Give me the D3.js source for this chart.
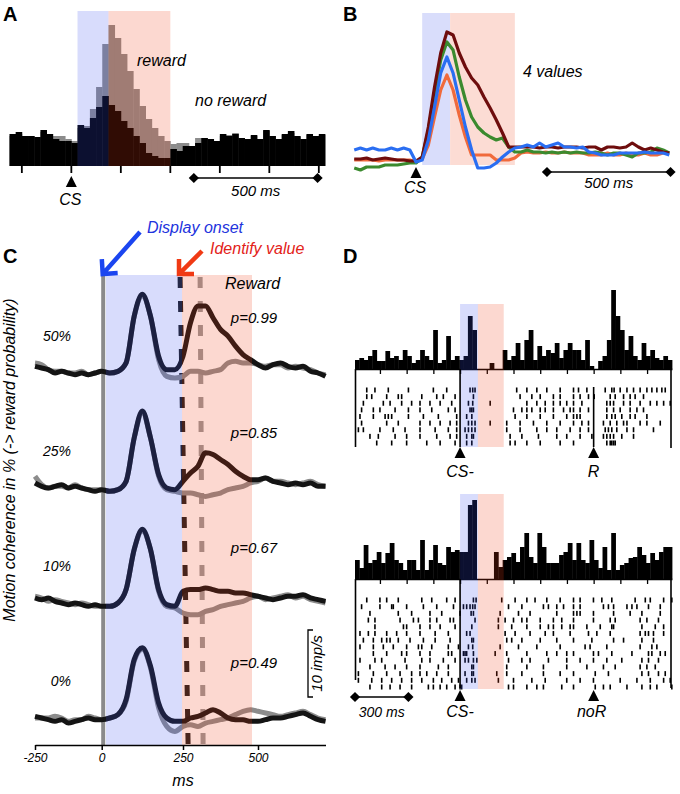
<!DOCTYPE html>
<html>
<head>
<meta charset="utf-8">
<script src="https://cdn.jsdelivr.net/npm/d3@7"></script>
<style>
  body { margin: 0; background: #fff; }
  svg { display: block; font-family: "Liberation Sans", Arial, sans-serif; }
  .it { font-style: italic; }
</style>
</head>
<body>
<svg id="fig" width="680" height="794"></svg>
<script>
// ---------------- data ----------------

// A: PSTH, 25 ms bins starting at -250 ms (px-ish rate units)
var aStart = -250, aBin = 25;
var aNoReward = [32,34,30,30,29,36,32,27,25,25,23,41,38,48,59,70,61,55,45,38,30,23,13,10,8,8,17,15,20,20,23,28,27,25,32,30,32,28,27,31,27,36,30,27,32,35,30,27,32,30,32];
var aReward   = [30,32,30,30,28,34,30,30,30,27,25,38,40,57,79,122,141,128,112,95,77,60,47,38,30,25,22,23,23,20,28,28,27,24,30,31,33,27,25,30,27,35,30,26,31,33,29,26,31,29,31];
var aTicks = [-200, 0, 200, 400, 600, 800, 1000];
var aBlue = [25, 150], aRed = [150, 400];

// B: population responses for 4 values, sampled every 25 ms from -250
var bTimes = d3.range(-250, 1026, 25);
var bDarkRed = [-4,-4,-3,-5,-4,-3,-4,-5,-5,-6,-6,-2,28,68,102,123,120,102,88,77,70,58,47,35,22,8,8,8,8,8,7,8,8,7,8,8,8,7,8,8,5,8,8,7,8,12,8,5,7,5,3,2];
var bGreen   = [-13,-15,-12,-12,-12,-10,-10,-10,-9,-8,-8,-2,25,62,95,113,105,78,55,38,28,22,18,15,17,8,3,3,5,3,3,2,3,2,3,2,3,2,2,3,2,0,2,2,0,-2,2,2,3,7,5,2];
var bBlue    = [5,7,5,7,5,5,7,5,7,5,-7,-5,15,48,82,98,82,55,28,5,-13,-13,-12,-8,-2,3,7,8,10,8,12,8,10,12,8,8,7,8,3,2,0,0,0,2,2,2,2,3,2,2,2,0];
var bOrange  = [-5,-5,-5,-5,-6,-5,-5,-5,-5,-5,-7,-4,10,38,65,80,65,40,18,0,0,0,0,-5,-5,-5,-3,2,3,2,2,3,2,2,3,2,2,2,0,0,0,2,0,0,2,0,0,2,0,0,2,2,2,2,-3];
var bBlueBand = [25, 138], bRedBand = [138, 400];

// C: responses per motion coherence (imp/s re baseline), every 25 ms from -250
var cTimes = d3.range(-250, 726, 25);
var cRows = ['50%', '25%', '10%', '0%'];
var cProb = ['p=0.99', 'p=0.85', 'p=0.67', 'p=0.49'];
var cReward = [
  [1.0,0.75,0.5,0,0.25,0,-0.25,0,-0.25,0,0.25,0,0.25,1.5,8.5,11.75,8.5,2.5,0.5,0.5,2.5,7.5,10,10,8.25,6.5,5.5,4,2.75,2,1.25,0.75,1.25,1.5,1.0,0.75,1.0,0.25,0,-0.5],
  [0.75,0.25,0,0.25,0.5,0,0.25,0,-0.25,-0.5,-0.25,-0.5,-0.25,1,7.5,11.5,7.5,2,0,-0.25,1,2.25,3.25,5.25,5,4.25,3.5,2.5,1.75,1.25,1.25,1.5,1,0.75,0.5,0.75,0.5,0.75,0.25,0.25],
  [0.75,0.5,0.75,0.25,0,-0.25,0,-0.25,-0.5,-0.25,-0.5,-0.5,0,2,8,11,8,2,-0.25,-0.5,1.75,2,2,2.25,2,1.75,1.75,1.5,1.5,1.25,1,0.75,0.5,0.75,1,1,1.25,0.75,0.5,0.25],
  [0.25,0,-0.25,-0.5,-0.25,-0.75,-0.5,-0.25,0,-0.25,-0.25,0,0.5,2.75,8.75,10.5,7.75,2.25,0,-0.5,-0.5,0,0.25,0.75,1.25,0.75,0,-0.25,-0.25,-0.5,-0.5,-0.25,0,0,0.25,0.5,0.75,0.25,-0.25,-0.5]
];
var cNoReward = [
  [1.5,1.25,0.5,0.25,0.25,0,0,0.25,-0.25,0,0.25,0,0.25,1.5,8.5,11.5,8.5,2.0,-0.5,-0.75,-0.5,0.25,0.25,0,0.25,0.5,1.5,1.75,1.5,1.5,1.25,1.0,1.25,1.25,0.75,1.0,0.75,0.5,0,-0.25],
  [1.75,0.5,0,0.25,0.25,0,0.5,0,-0.25,-0.25,-0.25,-0.5,-0.25,1,7.5,11.25,7.5,1.75,-0.25,-0.5,-0.75,-0.75,-1.0,-1.25,-1.0,-0.75,-0.25,0,0.25,0.75,1.0,1.5,1.0,1.0,0.75,0.5,0.75,1.0,0.5,0.25],
  [1.0,0.75,0.25,0.5,0.25,0,-0.25,0,-0.25,-0.5,-0.5,-0.5,0,2,8,10.75,8,1.75,-0.5,-0.75,-1.5,-1.75,-1.75,-1.25,-1.0,-0.5,-0.25,0,0.25,0.75,1.0,0.5,0.75,1.0,1.25,0.75,1.0,0.5,0.25,0],
  [0,0,0,0.25,0,-0.5,-0.25,-0.25,0.25,0,-0.25,0,0.5,2.5,8.5,10.25,7.5,1.5,-1.25,-2,-1.25,-1.0,-1.25,-0.75,-0.5,-0.25,0,0.5,1.0,1.25,1.0,0.75,0.5,0.25,0.5,0.75,1.0,0.5,0,-0.25]
];
var cTicks = [-250, 0, 250, 500];
var cBlue = [13, 247], cRed = [247, 480];
var cIdentify = [[241, 267], [307, 317]]; // dashed markers, top and bottom time (ms)

// D: single neuron, histogram (n bins over -590..1190 ms) + rasters (spike times, ms)
var dDomain = [-590, 1190];
var dTicks = [-450, -300, -150, 0, 150, 300, 450, 600, 750, 900, 1050];
var dBlue = [0, 100], dRed = [100, 245];
var dRewardTime = 750;
var dTopHist = [9,11,9,13,19,8,8,18,11,13,9,19,13,6,9,19,13,9,39,6,9,33,9,13,9,13,53,39,0,0,0,6,0,0,19,9,13,26,9,29,39,9,23,13,19,16,26,11,19,26,19,19,9,29,3,0,8,13,29,79,53,39,19,33,13,9,26,13,19,11,9,13,9];
var dBotHist = [19,11,34,16,19,27,16,26,36,19,16,9,19,19,9,39,9,19,34,16,14,32,27,29,27,27,74,79,0,0,0,0,27,12,19,22,26,17,32,46,22,16,46,32,16,16,16,24,27,36,19,36,19,16,39,19,11,32,9,46,9,14,16,21,22,32,24,16,26,19,27,32,32];
var dTopRaster = [
  [-524,-478,-403,-290,-150,-75,56,71,84,318,375,431,487,562,637,665,712,815,852,865,899,937,974,1011,1049,1077,1105,1133,1152],
  [-524,-496,-412,-347,-328,-215,-131,-94,-28,75,337,403,450,524,562,637,674,721,753,843,871,918,955,983,1030],
  [-543,-431,-393,-328,-272,-225,-169,-112,-47,47,71,169,375,431,478,524,562,599,637,684,824,843,862,918,955,1011,1068,1105,1143,1180],
  [-553,-487,-450,-365,-290,-225,-159,-66,-28,56,66,75,300,347,375,403,450,478,524,581,618,637,674,721,824,862,899,955,993,1030],
  [-562,-487,-421,-403,-384,-290,-206,-122,-19,37,66,309,375,450,524,599,637,656,674,824,852,871,908,955,983,1049],
  [-553,-412,-347,-225,-169,-112,-56,-19,47,66,84,169,262,337,412,487,562,637,684,721,805,843,880,918,937,1011,1049,1124],
  [-571,-543,-450,-375,-309,-225,-140,-66,-19,28,47,66,84,262,337,431,487,543,618,674,721,815,833,852,880,937,974,1086],
  [-506,-459,-365,-300,-225,-131,-56,-19,37,66,75,281,347,440,543,599,674,740,805,824,843,862,908,974],
  [-468,-384,-300,-187,-112,-28,37,66,281,309,375,450,562,637,824,843,852,862,871]
];
var dBotRaster = [
  [-524,-450,-412,-347,-215,-159,-75,-28,75,90,234,309,375,421,487,562,637,674,749,796,852,983,1040,1068,1143,1189],
  [-553,-450,-384,-375,-300,-206,-131,-37,19,37,56,71,84,272,347,468,496,543,581,637,674,805,833,862,937,965,993,1058,1124],
  [-506,-347,-272,-169,-103,0,62,75,225,328,393,543,637,656,674,749,862,955,1021,1124],
  [-515,-478,-337,-262,-234,-169,-131,-56,-37,84,215,253,300,347,375,450,524,571,637,749,843,871,1011,1049,1114],
  [-478,-318,-300,-225,-169,-112,-28,66,215,290,375,450,496,524,571,618,637,712,787,852,862,1021,1096,1143],
  [-562,-515,-478,-412,-356,-300,-225,-140,-66,37,56,253,309,393,478,524,618,721,768,843,1011,1040,1058,1086,1143],
  [-543,-487,-440,-412,-393,-347,-281,-206,-140,-56,66,75,262,290,347,450,543,637,740,862,918,1021,1086],
  [-562,-487,-431,-375,-300,-234,-215,-159,-66,-9,47,71,225,328,431,562,702,730,824,1011,1077,1105],
  [-487,-412,-328,-300,-225,-169,-66,-47,19,28,37,75,197,262,375,487,543,599,637,749,777,852,965,1058,1077,1124,1152],
  [-562,-478,-440,-309,-215,-169,-94,-28,28,47,75,94,272,347,393,496,599,674,749,824,908,1021,1058,1114],
  [-506,-421,-365,-300,-225,-122,-66,66,75,262,375,468,599,712,805,871,1011,1049,1096],
  [-571,-487,-412,-337,-272,-225,-187,-131,-66,28,66,75,206,262,347,468,562,637,759,833,1021,1058,1114,1152],
  [-571,-496,-440,-384,-328,-272,-215,-150,-103,-47,-9,37,66,84,215,300,403,478,599,674,749,899,993,1068,1143,1180],
  [-506,-440,-393,-337,-272,-178,-150,-112,-75,-28,0,9,272,300,375,431,468,571,637,759,805,843,937,1021,1068,1105,1189]
];

// ---------------- helpers ----------------
var svg = d3.select('#fig');
var TINT_BLUE = '#3c50f0', TINT_RED = '#f03c14';

function tint(g, x0, x1, y0, y1, color) {
  g.append('rect')
    .attr('x', x0).attr('y', y0)
    .attr('width', x1 - x0).attr('height', y1 - y0)
    .attr('fill', color).attr('fill-opacity', 0.2);
}

function label(g, x, y, txt, size, opts) {
  opts = opts || {};
  return g.append('text')
    .attr('x', x).attr('y', y)
    .attr('class', opts.bold ? null : 'it')
    .attr('font-weight', opts.bold ? 'bold' : null)
    .attr('font-size', size)
    .attr('text-anchor', opts.anchor || 'start')
    .attr('fill', opts.fill || '#000')
    .text(txt);
}

function upTriangle(g, x, yTip) {
  g.append('path')
    .attr('d', 'M' + x + ',' + yTip + 'L' + (x - 5.5) + ',' + (yTip + 11) + 'L' + (x + 5.5) + ',' + (yTip + 11) + 'Z')
    .attr('fill', '#000');
}

function scaleBar(g, x0, x1, y) {
  g.append('line').attr('x1', x0).attr('x2', x1).attr('y1', y).attr('y2', y)
    .attr('stroke', '#000').attr('stroke-width', 1.5);
  [x0, x1].forEach(function(x) {
    g.append('path')
      .attr('d', d3.symbol(d3.symbolSquare, 52)())
      .attr('transform', 'translate(' + x + ',' + y + ') rotate(45)')
      .attr('fill', '#000');
  });
}

function drawHist(g, values, x, y, t0, binW, fill) {
  g.selectAll(null)
    .data(values)
    .enter()
    .append('rect')
      .attr('x', function(d, i) { return x(t0 + i * binW); })
      .attr('width', function(d, i) { return x(t0 + (i + 1) * binW) - x(t0 + i * binW) + 0.4; })
      .attr('y', function(d) { return y(d); })
      .attr('height', function(d) { return y(0) - y(d); })
      .attr('fill', fill);
}

function arrow(g, x1, y1, x2, y2, color) {
  var ang = Math.atan2(y1 - y2, x1 - x2), len = 15, spread = Math.PI / 4;
  var d = 'M' + x1 + ',' + y1 + 'L' + x2 + ',' + y2 +
    'M' + (x2 + len * Math.cos(ang - spread)) + ',' + (y2 + len * Math.sin(ang - spread)) +
    'L' + x2 + ',' + y2 +
    'L' + (x2 + len * Math.cos(ang + spread)) + ',' + (y2 + len * Math.sin(ang + spread));
  g.append('path').attr('d', d).attr('fill', 'none')
    .attr('stroke', color).attr('stroke-width', 4.5)
    .attr('stroke-linecap', 'butt').attr('stroke-linejoin', 'miter');
}

// panel letters
[['A', 3, 21], ['B', 343, 21], ['C', 3, 263], ['D', 343, 263]].forEach(function(p) {
  label(svg, p[1], p[2], p[0], 20, { bold: true });
});

// ---------------- panel A ----------------
var gA = svg.append('g');
var xA = d3.scaleLinear().domain([-260, 1025]).range([7, 325]);
var yA = d3.scaleLinear().domain([0, 140]).range([166, 26]);

drawHist(gA, aReward, xA, yA, aStart, aBin, '#8c8c8c');
drawHist(gA, aNoReward, xA, yA, aStart, aBin, '#000');

gA.selectAll(null).data(aTicks).enter().append('line')
  .attr('x1', function(d) { return xA(d); }).attr('x2', function(d) { return xA(d); })
  .attr('y1', 166).attr('y2', 173)
  .attr('stroke', '#000').attr('stroke-width', 1.8);

tint(gA, xA(aBlue[0]), xA(aBlue[1]), 11, 166, TINT_BLUE);
tint(gA, xA(aRed[0]), xA(aRed[1]), 11, 166, TINT_RED);

upTriangle(gA, xA(0), 176);
label(gA, xA(0) - 1, 205, 'CS', 16, { anchor: 'middle' });
label(gA, 137, 66, 'reward', 16);
label(gA, 195, 106, 'no reward', 16);
scaleBar(gA, xA(495), xA(995), 178);
label(gA, xA(745), 196, '500 ms', 15, { anchor: 'middle' });

// ---------------- panel B ----------------
var gB = svg.append('g');
var xB = d3.scaleLinear().domain([-255, 1036]).range([353, 672]);
var yB = d3.scaleLinear().domain([0, 125]).range([155, 30]);

gB.append('rect').attr('x', xB(bBlueBand[0])).attr('y', 13)
  .attr('width', xB(bBlueBand[1]) - xB(bBlueBand[0])).attr('height', 152).attr('fill', '#d9ddfb');
gB.append('rect').attr('x', xB(bRedBand[0])).attr('y', 13)
  .attr('width', xB(bRedBand[1]) - xB(bRedBand[0])).attr('height', 152).attr('fill', '#fcdcd4');

var bSeries = [
  { color: '#f06a3c', values: bOrange },
  { color: '#3b8a2e', values: bGreen },
  { color: '#6e0d0d', values: bDarkRed },
  { color: '#2a6ef2', values: bBlue }
];
var lineB = d3.line()
  .x(function(d, i) { return xB(bTimes[i]); })
  .y(function(d) { return yB(d); });

gB.selectAll('.b-line')
  .data(bSeries)
  .enter()
  .append('path')
    .attr('class', 'b-line')
    .attr('d', function(s) { return lineB(s.values); })
    .attr('fill', 'none')
    .attr('stroke', function(s) { return s.color; })
    .attr('stroke-width', 3.2)
    .attr('stroke-linejoin', 'round');

upTriangle(gB, xB(0), 167);
label(gB, xB(0) - 1, 193, 'CS', 16, { anchor: 'middle' });
label(gB, 523, 77, '4 values', 16);
scaleBar(gB, xB(530), xB(1030), 172);
label(gB, xB(780), 188, '500 ms', 15, { anchor: 'middle' });

// ---------------- panel C ----------------
var gC = svg.append('g');
var xC = d3.scaleLinear().domain([-250, 0, 250, 500, 725]).range([35, 101.7, 183, 258, 325.5]);
var rowY = d3.scalePoint().domain(cRows).range([373, 718]);
var yC = d3.scaleLinear().domain([0, 10]).range([0, -67]);
var cTop = 275, cAxisY = 745;

// display onset line
gC.append('line').attr('x1', xC(0) + 1.5).attr('x2', xC(0) + 1.5)
  .attr('y1', cTop).attr('y2', cAxisY)
  .attr('stroke', '#8a8a8a').attr('stroke-width', 4);

// identify-value dashed markers
gC.selectAll('.id-dash')
  .data(cIdentify)
  .enter()
  .append('line')
    .attr('class', 'id-dash')
    .attr('x1', function(d) { return xC(d[0]); })
    .attr('x2', function(d) { return xC(d[1]); })
    .attr('y1', cTop + 2).attr('y2', cAxisY)
    .attr('stroke', function(d, i) { return i === 0 ? '#1e1e1e' : '#9a9a9a'; })
    .attr('stroke-width', 5)
    .attr('stroke-dasharray', '11,13');

var lineC = d3.line()
  .x(function(d, i) { return xC(cTimes[i]); })
  .y(function(d) { return yC(d); })
  .curve(d3.curveMonotoneX);

cRows.forEach(function(r, i) {
  var row = gC.append('g').attr('transform', 'translate(0,' + rowY(r) + ')');
  row.append('path').attr('d', lineC(cNoReward[i]))
    .attr('fill', 'none').attr('stroke', '#8c8c8c').attr('stroke-width', 5).attr('stroke-linejoin', 'round');
  row.append('path').attr('d', lineC(cReward[i]))
    .attr('fill', 'none').attr('stroke', '#141414').attr('stroke-width', 5).attr('stroke-linejoin', 'round');
});

tint(gC, xC(cBlue[0]), xC(cBlue[1]), cTop, cAxisY, TINT_BLUE);
tint(gC, xC(cRed[0]), xC(cRed[1]), cTop, cAxisY, TINT_RED);

cRows.forEach(function(r, i) {
  label(gC, 71, rowY(r) - 32, r, 14, { anchor: 'end' });
  label(gC, 254, rowY(r) - 50, cProb[i], 15, { anchor: 'middle' });
});
label(gC, 225, 289, 'Reward', 16);

var axC = gC.append('g')
  .attr('transform', 'translate(0,' + cAxisY + ')')
  .call(d3.axisBottom(xC).tickValues(cTicks).tickSize(5).tickSizeOuter(0)
    .tickFormat(function(d) { return String(d); }));
axC.select('.domain').attr('stroke-width', 1.5);
axC.selectAll('.tick line').attr('stroke-width', 1.5);
axC.selectAll('.tick text')
  .attr('font-size', 12).attr('font-style', 'italic')
  .attr('font-family', '"Liberation Sans", Arial, sans-serif');
label(gC, 183, 786, 'ms', 16, { anchor: 'middle' });

gC.append('text')
  .attr('class', 'it')
  .attr('transform', 'translate(15,460) rotate(-90)')
  .attr('text-anchor', 'middle')
  .attr('font-size', 16)
  .text('Motion coherence in % (-> reward probability)');

// 10 imp/s scale bar
var sbBottom = rowY('0%') - 21;
gC.append('path')
  .attr('d', 'M313,' + (sbBottom + yC(10)) + 'H308V' + sbBottom + 'H313')
  .attr('fill', 'none').attr('stroke', '#000').attr('stroke-width', 1.3);
gC.append('text')
  .attr('class', 'it')
  .attr('transform', 'translate(322,' + (sbBottom + yC(5)) + ') rotate(-90)')
  .attr('text-anchor', 'middle')
  .attr('font-size', 15)
  .text('10 imp/s');

arrow(gC, 140, 232, xC(0) + 1, cTop - 1, '#1b45f0');
label(gC, 147, 233, 'Display onset', 16, { fill: '#2233dd' });
arrow(gC, 202, 251, 179, 274, '#f03a14');
label(gC, 210, 254, 'Identify value', 16, { fill: '#e32219' });

// ---------------- panel D ----------------
var gD = svg.append('g');
var xD = d3.scaleLinear().domain(dDomain).range([355, 672]);

function drawNeuron(g, hist, raster, base, bandTop, bandBottom, rasterTop, rasterBottom) {
  var y = d3.scaleLinear().domain([0, 80]).range([base, base - 80]);
  var binW = (dDomain[1] - dDomain[0]) / hist.length;
  drawHist(g, hist, xD, y, dDomain[0], binW, '#000');

  var ax = g.append('g')
    .attr('transform', 'translate(0,' + base + ')')
    .call(d3.axisBottom(xD).tickValues(dTicks).tickSize(5).tickSizeOuter(0).tickFormat(''));
  ax.select('.domain').attr('stroke-width', 1.5);
  ax.selectAll('.tick line').attr('stroke-width', 1.3);

  var rowS = d3.scalePoint().domain(d3.range(raster.length)).range([rasterTop, rasterBottom]);
  raster.forEach(function(spikes, i) {
    g.selectAll(null)
      .data(spikes)
      .enter()
      .append('rect')
        .attr('x', function(t) { return xD(t) - 0.8; })
        .attr('y', rowS(i) - 2.5)
        .attr('width', 1.6)
        .attr('height', 5)
        .attr('fill', '#000');
  });

  tint(g, xD(dBlue[0]), xD(dBlue[1]), bandTop, bandBottom, TINT_BLUE);
  tint(g, xD(dRed[0]), xD(dRed[1]), bandTop, bandBottom, TINT_RED);
  return y;
}

function vline(g, x, y1, y2) {
  g.append('line').attr('x1', x).attr('x2', x).attr('y1', y1).attr('y2', y2)
    .attr('stroke', '#000').attr('stroke-width', 1.6);
}

// top neuron: rewarded
drawNeuron(gD, dTopHist, dTopRaster, 369, 304, 447, 390, 443);
vline(gD, 355.5, 369, 447);
vline(gD, 671, 363, 448);
vline(gD, xD(0), 369, 447);
vline(gD, xD(dRewardTime), 387, 447);
upTriangle(gD, xD(0), 447);
upTriangle(gD, xD(dRewardTime), 447);
label(gD, xD(0), 477, 'CS-', 16, { anchor: 'middle' });
label(gD, xD(dRewardTime), 477, 'R', 16, { anchor: 'middle' });

// bottom neuron: no reward
drawNeuron(gD, dBotHist, dBotRaster, 579, 494, 689, 600, 687);
vline(gD, 355.5, 579, 680);
vline(gD, 671, 579, 688);
vline(gD, xD(0), 579, 688);
upTriangle(gD, xD(0), 690);
upTriangle(gD, xD(dRewardTime), 690);
label(gD, xD(0), 717, 'CS-', 16, { anchor: 'middle' });
label(gD, xD(dRewardTime) - 2, 717, 'noR', 16, { anchor: 'middle' });
scaleBar(gD, xD(-590), xD(-290), 697);
label(gD, xD(-440), 717, '300 ms', 14, { anchor: 'middle' });
</script>
</body>
</html>
